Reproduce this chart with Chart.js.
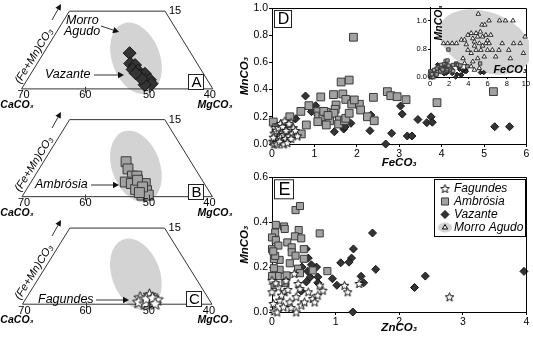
<!DOCTYPE html>
<html>
<head>
<meta charset="utf-8">
<title>Carbonate compositions</title>
<script src="https://cdn.jsdelivr.net/npm/chart.js@4.4.1/dist/chart.umd.min.js"></script>
<style>
  html, body { margin: 0; padding: 0; background: #fff; }
  #wrap { position: relative; width: 533px; height: 339px; overflow: hidden; background: #fff; }
  #wrap canvas { position: absolute; }
</style>
</head>
<body>
<div id="wrap">
  <canvas id="triA" width="240" height="125" style="left:0;top:0"></canvas>
  <canvas id="triB" width="240" height="125" style="left:0;top:108px"></canvas>
  <canvas id="triC" width="240" height="123" style="left:0;top:216px"></canvas>
  <canvas id="plotD" width="301" height="170" style="left:232px;top:0"></canvas>
  <canvas id="plotE" width="301" height="169" style="left:232px;top:170px"></canvas>
  <canvas id="inset" width="135" height="92" style="left:396px;top:0"></canvas>
</div>
<script>
// ---- ternary panels, points as [CaCO3, (Fe+Mn)CO3] mol% ----
const triVazante = [[49.6, 6.9], [50.5, 4.9], [49.9, 4.6], [50.7, 3.75], [50.0, 3.5], [50.1, 2.6], [49.2, 2.9],
  [49.7, 1.75], [49.0, 1.75], [49.1, 1.0], [50.3, 0.8], [50.2, 2.0], [50.6, 3.0]];
const triAmbrosia = [[50.2, 6.8], [50.6, 5.4], [50.6, 4.0], [49.9, 4.0], [52.3, 2.85], [51.5, 2.55], [50.25, 2.3],
  [49.3, 2.55], [51.4, 1.4], [49.8, 1.15], [50.95, 0.3], [49.95, 0.3], [50.2, 3.2], [50.05, 1.9], [51.1, 0.8]];
const triFagundes = [[50.7, 1.35], [51.35, 0.5], [48.95, 1.9], [49.3, 0.8], [48.95, 0.5], [50.5, 0.2], [48.2, 1.0],
  [49.8, 1.2], [48.75, 1.3], [48.9, 0.2]];
const triFrame = [[70, 0], [55, 15], [40, 15], [40, 0], [70, 0]];
const triTicks = [70, 60, 50, 40];
const triTop = 15;
const triField = [49.1, 5.9];            // centre of the Morro Agudo field

// ---- D: MnCO3 vs FeCO3 (mol%) ----
const dFagundes = [[0.02, 0.02], [0.05, 0.0], [0.08, 0.04], [0.1, 0.01], [0.12, 0.06], [0.15, 0.03], [0.18, 0.08],
  [0.2, 0.05], [0.22, 0.1], [0.25, 0.02], [0.28, 0.07], [0.3, 0.12], [0.32, 0.04], [0.35, 0.09], [0.38, 0.14],
  [0.4, 0.06], [0.42, 0.11], [0.45, 0.16], [0.48, 0.08], [0.5, 0.12], [0.05, 0.08], [0.07, 0.12], [0.1, 0.1],
  [0.15, 0.12], [0.2, 0.15], [0.25, 0.13], [0.3, 0.17], [0.33, 0.1], [0.4, 0.15], [0.45, 0.04], [0.55, 0.1],
  [0.03, 0.05], [0.12, 0.0], [0.18, 0.02], [0.28, 0.0], [0.36, 0.01], [0.6, 0.06]];
const dAmbrosia = [[1.92, 0.785], [1.63, 0.456], [1.82, 0.47], [1.67, 0.368], [1.45, 0.363], [1.15, 0.346],
  [1.74, 0.328], [2.39, 0.343], [2.72, 0.385], [2.80, 0.355], [2.95, 0.348], [3.16, 0.326], [3.89, 0.304],
  [5.22, 0.385], [0.87, 0.282], [0.68, 0.24], [0.81, 0.14], [0.69, 0.074], [0.42, 0.20], [0.03, 0.162],
  [1.08, 0.238], [1.10, 0.206], [1.20, 0.20], [1.28, 0.233], [1.36, 0.171], [1.28, 0.14], [1.08, 0.164],
  [1.51, 0.287], [1.49, 0.255], [1.46, 0.226], [1.59, 0.176], [1.57, 0.147], [1.71, 0.171], [1.74, 0.189],
  [1.82, 0.226], [1.88, 0.294], [2.06, 0.292], [2.09, 0.25], [2.25, 0.20], [2.41, 0.171], [1.94, 0.324],
  [1.22, 0.24], [1.32, 0.21], [0.10, 0.12], [0.2, 0.08]];
const dVazante = [[0.79, 0.353], [1.03, 0.282], [0.93, 0.238], [0.56, 0.186], [1.47, 0.09], [1.69, 0.11],
  [1.86, 0.152], [2.33, 0.213], [2.31, 0.098], [2.68, 0.0], [2.82, 0.079], [3.03, 0.279], [3.07, 0.22],
  [3.19, 0.059], [3.30, 0.059], [3.44, 0.18], [3.65, 0.157], [3.75, 0.20], [3.78, 0.16], [5.25, 0.127],
  [5.60, 0.127], [1.72, 0.125]];

// ---- inset: Morro Agudo, MnCO3 vs FeCO3 ----
const insetMorro = [[5.03, 1.8], [5.41, 1.49], [5.71, 1.49], [6.15, 1.61], [7.24, 1.61], [7.86, 1.61], [8.64, 1.61],
  [9.9, 1.15], [1.4, 0.96], [1.84, 0.96], [2.31, 0.96], [2.76, 0.96], [3.27, 1.06], [3.6, 1.06], [3.78, 0.93],
  [4.29, 1.25], [4.8, 1.25], [4.97, 1.15], [5.24, 1.29], [5.48, 1.15], [5.82, 1.2], [5.99, 1.04], [4.63, 1.01],
  [5.14, 0.96], [5.82, 0.96], [6.16, 0.96], [4.8, 0.77], [5.31, 0.77], [5.99, 0.77], [6.5, 0.77], [7.18, 0.77],
  [7.52, 0.96], [8.2, 0.77], [8.71, 0.96], [9.39, 0.96], [9.73, 0.68], [6.84, 0.58], [5.65, 0.58], [4.97, 0.53],
  [4.29, 0.68], [3.95, 0.77], [4.46, 0.44], [5.14, 0.25], [8.37, 0.53], [4.29, 0.3], [4.63, 0.2], [3.6, 0.39],
  [3.44, 0.53], [3.95, 1.2], [4.46, 1.1], [4.63, 0.89], [5.48, 0.89], [6.33, 1.2]];
const insetField = [5.75, 1.0];
const insetXTicks = [0, 2, 4, 6, 8, 10];
const insetYTicks = [0, 0.8, 1.6];

// ---- E: MnCO3 vs ZnCO3 (mol%) ----
const eFagundes = [[0.35, 0.171], [0.41, 0.127], [0.44, 0.104], [0.38, 0.068], [0.38, 0.0], [0.28, 0.045],
  [0.2, 0.09], [0.12, 0.053], [0.02, 0.038], [0.03, 0.005], [0.1, 0.112], [0.0, 0.09], [0.0, 0.141], [0.06, 0.13],
  [0.18, 0.023], [0.46, 0.031], [0.51, 0.045], [0.64, 0.06], [0.67, 0.045], [0.72, 0.075], [0.80, 0.097],
  [0.75, 0.12], [1.14, 0.119], [1.19, 0.09], [1.37, 0.127], [0.57, 0.09], [2.79, 0.068], [0.15, 0.075],
  [0.25, 0.1], [0.08, 0.0], [0.3, 0.02], [0.22, 0.14]];
const eAmbrosia = [[0.37, 0.454], [0.44, 0.472], [0.06, 0.388], [0.19, 0.381], [0.05, 0.354], [0.0, 0.332],
  [0.06, 0.32], [0.42, 0.365], [0.36, 0.337], [0.46, 0.328], [0.75, 0.35], [0.24, 0.31], [0.31, 0.288],
  [0.0, 0.28], [0.1, 0.296], [0.31, 0.266], [0.37, 0.251], [0.5, 0.28], [0.5, 0.237], [0.12, 0.232],
  [0.03, 0.236], [0.28, 0.217], [0.41, 0.193], [0.12, 0.188], [0.03, 0.195], [0.23, 0.163], [0.44, 0.173],
  [0.64, 0.185], [0.87, 0.182], [0.09, 0.16], [0.0, 0.16], [0.21, 0.13], [0.04, 0.12], [0.05, 0.25],
  [0.02, 0.27], [0.2, 0.37]];
const eVazante = [[1.58, 0.352], [1.28, 0.281], [1.25, 0.24], [1.21, 0.222], [1.08, 0.219], [1.63, 0.19],
  [1.40, 0.159], [1.44, 0.13], [1.02, 0.119], [0.95, 0.148], [0.70, 0.20], [0.72, 0.156], [0.72, 0.13],
  [0.54, 0.281], [0.57, 0.24], [0.56, 0.182], [0.60, 0.155], [0.54, 0.134], [0.47, 0.2], [1.27, 0.0],
  [2.24, 0.109], [2.41, 0.16], [3.96, 0.181], [0.46, 0.093], [0.62, 0.21]];

const legendNames = ['Fagundes', 'Ambrósia', 'Vazante', 'Morro Agudo'];

const FONT = '"Liberation Sans", Arial, sans-serif';
const fieldGrey = '#d3d3d3';
const sqFill = '#a2a2a2', sqLine = '#3a3a3a';
const dmFill = '#343434', dmLine = '#151515';

// five-pointed open star used as a point style
function starImage(size, lw) {
  const c = document.createElement('canvas');
  c.width = c.height = size;
  const g = c.getContext('2d');
  const cx = size / 2, cy = size / 2 + size * 0.05;
  const R = size / 2 - lw, r = R * 0.45;
  g.beginPath();
  for (let i = 0; i < 10; i++) {
    const a = -Math.PI / 2 + i * Math.PI / 5;
    const rr = i % 2 ? r : R;
    g.lineTo(cx + rr * Math.cos(a), cy + rr * Math.sin(a));
  }
  g.closePath();
  g.fillStyle = '#fff';
  g.fill();
  g.lineWidth = lw;
  g.strokeStyle = '#111';
  g.stroke();
  return c;
}
const starBig = starImage(15, 1);
const starMed = starImage(11, 1);
const starSmall = starImage(6, 0.7);

const xy = (arr) => arr.map(p => ({ x: p[0], y: p[1] }));

function squares(data, r, order) {
  return { data: xy(data), pointStyle: 'rect', pointRadius: r, backgroundColor: sqFill, borderColor: sqLine,
    borderWidth: 1, clip: false, order };
}
function diamonds(data, r, order) {
  return { data: xy(data), pointStyle: 'rectRot', pointRadius: r, backgroundColor: dmFill, borderColor: dmLine,
    borderWidth: 1, clip: false, order };
}
function stars(data, img, order) {
  return { data: xy(data), pointStyle: img, pointRadius: img.width / 2, clip: false, order };
}

function arrow(ctx, x1, y1, x2, y2, head, half) {
  const a = Math.atan2(y2 - y1, x2 - x1);
  ctx.beginPath();
  ctx.moveTo(x1, y1);
  ctx.lineTo(x2 - head * Math.cos(a), y2 - head * Math.sin(a));
  ctx.stroke();
  ctx.beginPath();
  ctx.moveTo(x2, y2);
  ctx.lineTo(x2 - head * Math.cos(a) + half * Math.sin(a), y2 - head * Math.sin(a) - half * Math.cos(a));
  ctx.lineTo(x2 - head * Math.cos(a) - half * Math.sin(a), y2 - head * Math.sin(a) + half * Math.cos(a));
  ctx.closePath();
  ctx.fill();
}

function letterBox(ctx, letter, x, y, s, fontPx) {
  ctx.save();
  ctx.fillStyle = '#fff';
  ctx.fillRect(x, y, s, s);
  ctx.strokeStyle = '#222';
  ctx.lineWidth = 1;
  ctx.strokeRect(x + 0.5, y + 0.5, s, s);
  ctx.fillStyle = '#000';
  ctx.font = fontPx + 'px ' + FONT;
  ctx.textAlign = 'center';
  ctx.textBaseline = 'middle';
  ctx.fillText(letter, x + s / 2 + 1, y + s / 2 + 1.5);
  ctx.restore();
}

// ---- ternary (CaCO3 - MgCO3 - (Fe+Mn)CO3) panels ----
const TRI_SX = 6.8;                          // px per mol% along the base
const TRI_SY = TRI_SX * Math.sqrt(3) / 2;    // px per mol% upwards
const TRI_BASE = 92.5;                       // base line, px from canvas top
const tern = (ca, fm) => ({ x: 100 - ca - fm / 2, y: fm });

function ternaryChart(id, dataset, note) {
  const cv = document.getElementById(id);
  const xMin = 30 - 15 / TRI_SX;
  const decor = {
    id: 'ternDecor',
    beforeDatasetsDraw(chart) {
      const { ctx, scales: { x, y } } = chart;
      const c = tern(triField[0], triField[1]);
      ctx.save();
      ctx.fillStyle = fieldGrey;
      ctx.beginPath();
      ctx.ellipse(x.getPixelForValue(c.x), y.getPixelForValue(c.y), 24, 37, -20 * Math.PI / 180, 0, Math.PI * 2);
      ctx.fill();
      ctx.restore();
    },
    afterDatasetsDraw(chart) {
      const { ctx, scales: { x, y } } = chart;
      const base = y.getPixelForValue(0);
      const top = y.getPixelForValue(triTop);
      ctx.save();
      ctx.strokeStyle = '#333';
      ctx.fillStyle = '#000';
      ctx.lineWidth = 1;
      // base ticks and labels
      ctx.font = '11px ' + FONT;
      ctx.textAlign = 'center';
      ctx.textBaseline = 'middle';
      triTicks.forEach((ca, i) => {
        const px = x.getPixelForValue(100 - ca);
        if (i > 0 && i < triTicks.length - 1) {
          ctx.beginPath();
          ctx.moveTo(Math.round(px) + 0.5, base - 2);
          ctx.lineTo(Math.round(px) + 0.5, base + 4);
          ctx.stroke();
        }
        ctx.fillText(String(ca), px + (i === 0 ? 2 : i === triTicks.length - 1 ? -3 : 0), base + 6.5);
      });
      ctx.font = 'italic bold 10.5px ' + FONT;
      ctx.fillText('CaCO₃', 17, base + 16);
      ctx.fillText('MgCO₃', 215, base + 16);
      ctx.font = '11px ' + FONT;
      ctx.textAlign = 'left';
      ctx.fillText(String(triTop), x.getPixelForValue(tern(40, triTop).x) + 4, top);
      // apex label along the left side
      const ang = Math.atan2(-(base - top), x.getPixelForValue(tern(55, 15).x) - x.getPixelForValue(tern(70, 0).x));
      ctx.save();
      ctx.translate(34, 56);
      ctx.rotate(ang);
      ctx.font = 'italic 11px ' + FONT;
      ctx.textAlign = 'center';
      ctx.fillText('(Fe+Mn)CO₃', 0, 0);
      ctx.restore();
      ctx.fillStyle = '#111';
      arrow(ctx, 52, 20, 61, 4, 6, 3);
      // locality labels
      ctx.fillStyle = '#000';
      ctx.font = 'italic 12.5px ' + FONT;
      ctx.textAlign = 'left';
      note.text.forEach(t => ctx.fillText(t[0], t[1], t[2]));
      ctx.fillStyle = '#111';
      note.arrows.forEach(a => arrow(ctx, a[0], a[1], a[2], a[3], 6, 3.2));
      ctx.restore();
      letterBox(ctx, note.letter, note.box[0], note.box[1], 15, 15);
    }
  };
  return new Chart(cv, {
    type: 'scatter',
    data: {
      datasets: [
        dataset,
        { data: triFrame.map(p => tern(p[0], p[1])), showLine: true, borderColor: '#333', borderWidth: 1,
          pointRadius: 0, clip: false, order: 5 }
      ]
    },
    options: {
      responsive: false, animation: false, devicePixelRatio: 1, events: [],
      layout: { padding: 0 },
      plugins: { legend: { display: false }, tooltip: { enabled: false } },
      scales: {
        x: { type: 'linear', display: false, min: xMin, max: xMin + cv.width / TRI_SX },
        y: { type: 'linear', display: false, min: -(cv.height - TRI_BASE) / TRI_SY, max: TRI_BASE / TRI_SY }
      }
    },
    plugins: [decor]
  });
}

ternaryChart('triA', { ...diamonds(triVazante.map(p => [tern(p[0], p[1]).x, p[1]]), 6.5, 0) }, {
  text: [['Morro', 66, 21], ['Agudo', 64, 32], ['Vazante', 45, 75]],
  arrows: [[101, 26, 119, 32], [94, 75, 124, 75]],
  letter: 'A', box: [188, 74]
});
ternaryChart('triB', { ...squares(triAmbrosia.map(p => [tern(p[0], p[1]).x, p[1]]), 7, 0) }, {
  text: [['Ambrósia', 35, 77]],
  arrows: [[91, 77, 119, 77]],
  letter: 'B', box: [188, 76]
});
ternaryChart('triC', { ...stars(triFagundes.map(p => [tern(p[0], p[1]).x, p[1]]), starBig, 0) }, {
  text: [['Fagundes', 38, 84]],
  arrows: [[96, 84, 129, 84]],
  letter: 'C', box: [186, 75]
});

// ---- rectangular plots ----
const tickFont = { family: FONT, size: 10.5 };
const titleFont = { family: FONT, size: 11.5, style: 'italic', weight: 'bold' };

function axis(min, max, step, title, fmt, fit, titlePad) {
  return {
    type: 'linear', min, max,
    ticks: { stepSize: step, color: '#000', font: tickFont, padding: 1, maxRotation: 0, autoSkip: false, callback: fmt },
    grid: { drawOnChartArea: false, drawTicks: true, tickLength: 3, color: '#000', lineWidth: 1 },
    border: { display: true, color: '#000', width: 1 },
    title: { display: true, text: title, color: '#000', font: titleFont, padding: titlePad },
    afterFit: fit
  };
}

const frame = {
  id: 'frame',
  afterDraw(chart) {
    const { ctx, chartArea: a } = chart;
    ctx.save();
    ctx.strokeStyle = '#000';
    ctx.lineWidth = 1;
    ctx.beginPath();
    ctx.moveTo(a.left, Math.round(a.top) + 0.5);
    ctx.lineTo(Math.round(a.right) - 0.5, Math.round(a.top) + 0.5);
    ctx.lineTo(Math.round(a.right) - 0.5, a.bottom);
    ctx.stroke();
    ctx.restore();
    letterBox(ctx, chart.options.panelLetter, a.left + 2, a.top + 2, chart.options.panelBox, chart.options.panelBox - 1);
  }
};

const base = {
  responsive: false, animation: false, devicePixelRatio: 1, events: [],
  plugins: { legend: { display: false }, tooltip: { enabled: false } }
};

new Chart(document.getElementById('plotD'), {
  type: 'scatter',
  data: {
    datasets: [
      stars(dFagundes, starMed, 0),
      squares(dAmbrosia, 5.5, 1),
      diamonds(dVazante, 4, 2)
    ]
  },
  options: {
    ...base,
    panelLetter: 'D', panelBox: 17,
    layout: { padding: { top: 8, right: 4, left: 0, bottom: 0 } },
    scales: {
      x: axis(0, 6, 1, 'FeCO₃', v => String(v), s => { s.height = 26; }, { top: 0, bottom: 0 }),
      y: axis(0, 1, 0.2, 'MnCO₃', v => v.toFixed(1), s => { s.width = 40; }, { top: 6, bottom: 0 })
    }
  },
  plugins: [frame]
});

// legend box drawn inside panel E
const boxLegend = {
  id: 'boxLegend',
  afterDraw(chart) {
    const { ctx, chartArea: a } = chart;
    const w = 91, h = 57, x0 = Math.round(a.right) - 2 - w, y0 = Math.round(a.top) + 2;
    ctx.save();
    ctx.fillStyle = '#fff';
    ctx.fillRect(x0, y0, w, h);
    ctx.strokeStyle = '#000';
    ctx.lineWidth = 1;
    ctx.strokeRect(x0 + 0.5, y0 + 0.5, w, h);
    const sym = [
      { pointStyle: starMed, radius: 5.5 },
      { pointStyle: 'rect', radius: 5, backgroundColor: sqFill, borderColor: sqLine, borderWidth: 1 },
      { pointStyle: 'rectRot', radius: 4, backgroundColor: dmFill, borderColor: dmLine, borderWidth: 1 },
      { pointStyle: 'triangle', radius: 3, backgroundColor: '#fff', borderColor: '#000', borderWidth: 1 }
    ];
    legendNames.forEach((name, i) => {
      const cy = y0 + 9.5 + i * 13;
      const cx = x0 + 11;
      if (i === 3) {
        ctx.fillStyle = fieldGrey;
        ctx.beginPath();
        ctx.ellipse(cx, cy, 7, 5, 0, 0, Math.PI * 2);
        ctx.fill();
      }
      const o = sym[i];
      ctx.fillStyle = o.backgroundColor || '#fff';
      ctx.strokeStyle = o.borderColor || '#000';
      ctx.lineWidth = o.borderWidth || 1;
      Chart.helpers.drawPoint(ctx, { pointStyle: o.pointStyle, radius: o.radius, borderWidth: o.borderWidth || 1 }, cx, cy);
      ctx.fillStyle = '#000';
      ctx.font = 'italic 12px ' + FONT;
      ctx.textAlign = 'left';
      ctx.textBaseline = 'middle';
      ctx.fillText(name, x0 + 20, cy);
    });
    ctx.restore();
  }
};

new Chart(document.getElementById('plotE'), {
  type: 'scatter',
  data: {
    datasets: [
      stars(eFagundes, starMed, 0),
      squares(eAmbrosia, 5, 1),
      diamonds(eVazante, 4, 2)
    ]
  },
  options: {
    ...base,
    panelLetter: 'E', panelBox: 19,
    layout: { padding: { top: 6, right: 4, left: 0, bottom: 0 } },
    scales: {
      x: axis(0, 4, 1, 'ZnCO₃', v => String(v), s => { s.height = 27; }, { top: 0, bottom: 4 }),
      y: axis(0, 0.6, 0.2, 'MnCO₃', v => v.toFixed(1), s => { s.width = 40; }, { top: 6, bottom: 0 })
    }
  },
  plugins: [frame, boxLegend]
});

// ---- inset of panel D with the Morro Agudo field ----
const insetDecor = {
  id: 'insetDecor',
  beforeDatasetsDraw(chart) {
    const { ctx, scales: { x, y } } = chart;
    ctx.save();
    ctx.beginPath();
    ctx.rect(0, 0, 133, chart.height);
    ctx.clip();
    ctx.fillStyle = fieldGrey;
    ctx.beginPath();
    ctx.ellipse(x.getPixelForValue(insetField[0]), y.getPixelForValue(insetField[1]), 48, 30, 20 * Math.PI / 180, 0, Math.PI * 2);
    ctx.fill();
    ctx.restore();
  },
  afterDraw(chart) {
    const { ctx, chartArea: a } = chart;
    ctx.save();
    ctx.fillStyle = '#000';
    ctx.font = 'italic bold 11px ' + FONT;
    ctx.textAlign = 'right';
    ctx.textBaseline = 'middle';
    ctx.fillText('FeCO₃', a.right + 1, a.bottom - 7);
    ctx.translate(a.left + 9, a.top + 16);
    ctx.rotate(-Math.PI / 2);
    ctx.textAlign = 'center';
    ctx.font = 'italic bold 10.5px ' + FONT;
    ctx.fillText('MnCO₃', 0, 0);
    ctx.restore();
  }
};

const insetFont = { family: FONT, size: 7.5 };
new Chart(document.getElementById('inset'), {
  type: 'scatter',
  data: {
    datasets: [
      { data: xy(insetMorro), pointStyle: 'triangle', pointRadius: 2.6, backgroundColor: '#fff', borderColor: '#000',
        borderWidth: 0.8, clip: false, order: 0 },
      stars(dFagundes, starSmall, 3),
      squares(dAmbrosia, 2.4, 1),
      diamonds(dVazante, 2.2, 2)
    ]
  },
  options: {
    ...base,
    layout: { padding: { top: 7, right: 4, left: 0, bottom: 0 } },
    scales: {
      x: {
        type: 'linear', min: 0, max: 10,
        afterBuildTicks: s => { s.ticks = insetXTicks.map(v => ({ value: v })); },
        ticks: { color: '#000', font: insetFont, padding: 0, maxRotation: 0, autoSkip: false },
        grid: { drawOnChartArea: false, tickLength: 2, color: '#000' },
        border: { color: '#000' },
        afterFit: s => { s.height = 15; }
      },
      y: {
        type: 'linear', min: 0, max: 2,
        afterBuildTicks: s => { s.ticks = insetYTicks.map(v => ({ value: v })); },
        ticks: { color: '#000', font: insetFont, padding: 1, callback: v => v.toFixed(1) },
        grid: { drawOnChartArea: false, tickLength: 2, color: '#000' },
        border: { color: '#000' },
        afterFit: s => { s.width = 34; }
      }
    }
  },
  plugins: [insetDecor]
});
</script>
</body>
</html>
